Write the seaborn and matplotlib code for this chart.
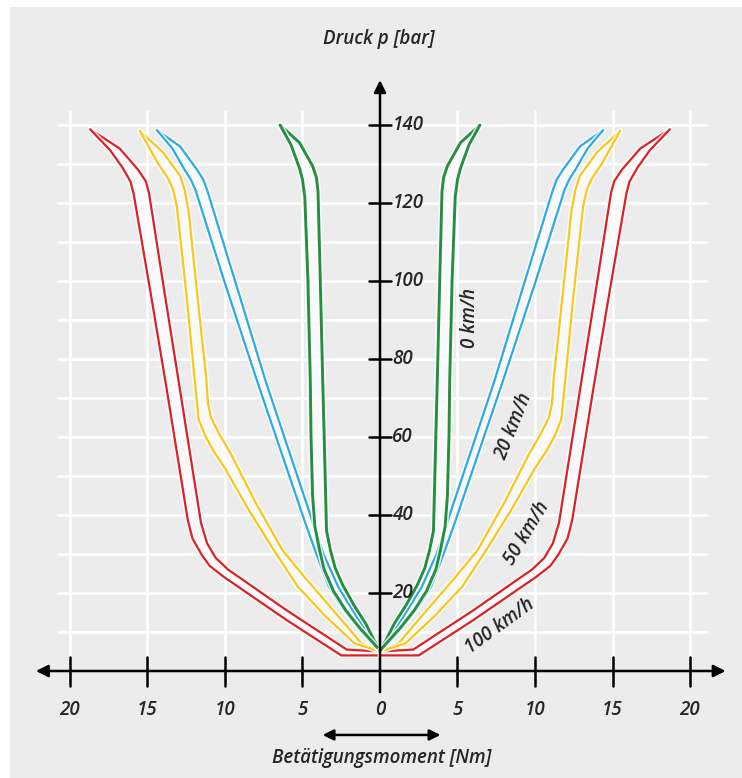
import numpy as np
import pandas as pd
import matplotlib
matplotlib.use("Agg")
import matplotlib.pyplot as plt
import matplotlib.patheffects as pe
from matplotlib.patches import Rectangle
import seaborn as sns

# ------------------------------------------------------------
# Daten (nur rechte Hälfte, die linke Seite ist gespiegelt)
# ------------------------------------------------------------
speeds = ["0 km/h", "20 km/h", "50 km/h", "100 km/h"]
colors = {"0 km/h": "#24903f", "20 km/h": "#2aabe4",
          "50 km/h": "#f8c71a", "100 km/h": "#dd2027"}

# 0 km/h
green_out_x = [0, 0.5, 1.3, 2.2, 3.0, 3.6, 3.9, 4.2, 4.35, 4.45, 4.5, 4.65, 4.85, 5.0, 5.2, 5.75, 6.45]
green_out_y = [5.2, 7.5, 11.0, 15.5, 20.5, 26.0, 31.0, 37.0, 45, 60, 75, 100, 121.5, 126, 129, 135, 140]
green_in_x = [0, 0.4, 0.9, 1.7, 2.4, 2.9, 3.2, 3.45, 3.6, 3.7, 3.85, 4.0, 4.1, 4.35, 5.2, 6.45]
green_in_y = [5.2, 8.0, 12.0, 17.0, 22.0, 26.5, 31.0, 36.0, 60, 75, 100, 123, 126.5, 129.5, 135.5, 140]

# 20 km/h
blue_out_x = [0, 0.65, 1.5, 2.5, 3.3, 4.15, 4.85, 7.95, 10.05, 11.9, 12.2, 12.6, 13.4, 14.4]
blue_out_y = [5.2, 7.5, 11.5, 16.5, 21.6, 30.5, 38.3, 74.6, 100, 123.3, 126.0, 128.5, 134.0, 138.7]
blue_in_x = [0, 0.5, 1.6, 2.7, 3.65, 4.35, 7.4, 9.35, 11.15, 11.4, 11.8, 12.9, 14.4]
blue_in_y = [5.2, 8.0, 14.5, 21.6, 30.0, 38.3, 74.6, 100, 123.3, 126.0, 128.5, 134.5, 138.7]

# 50 km/h
yellow_out_x = [0, 1.65, 3.5, 5.3, 6.85, 8.5, 10.0, 10.8, 11.3, 11.7, 11.95, 12.5, 13.1, 13.35, 13.7, 14.3, 15.5]
yellow_out_y = [5.0, 7.1, 14.0, 21.6, 31.0, 41.5, 52.0, 56.8, 60.5, 64.5, 74.6, 97, 119, 123.5, 126.5, 130.0, 138.5]
yellow_in_x = [0, 1.2, 3.0, 4.85, 6.3, 8.0, 9.6, 10.4, 10.9, 11.1, 11.2, 11.8, 12.35, 12.6, 12.9, 14.0, 15.5]
yellow_in_y = [5.0, 7.1, 15.5, 24.0, 31.0, 43.0, 55.5, 61.0, 65.0, 68.6, 74.6, 97, 118, 123.3, 127.0, 133.0, 138.5]

# 100 km/h
red_out_x = [0, 2.5, 6.0, 10.1, 11.0, 11.5, 12.1, 12.4, 13.75, 14.8, 15.9, 16.1, 16.6, 17.4, 18.7]
red_out_y = [4.0, 4.0, 13.0, 24.2, 27.0, 29.8, 34.0, 38.7, 72.0, 97, 122.5, 125.5, 129.0, 133.5, 138.9]
red_in_x = [0, 2.15, 6.0, 9.8, 10.6, 11.15, 11.55, 12.9, 13.9, 14.9, 15.1, 15.6, 16.8, 18.7]
red_in_y = [5.0, 5.5, 15.5, 26.0, 29.0, 32.7, 38.0, 72.0, 97, 122.5, 125.5, 128.5, 134.0, 138.9]

curves = {
    "0 km/h": (green_out_x, green_out_y, green_in_x, green_in_y),
    "20 km/h": (blue_out_x, blue_out_y, blue_in_x, blue_in_y),
    "50 km/h": (yellow_out_x, yellow_out_y, yellow_in_x, yellow_in_y),
    "100 km/h": (red_out_x, red_out_y, red_in_x, red_in_y),
}

x_ticks = [-20, -15, -10, -5, 0, 5, 10, 15, 20]
x_ticklabels = ["20", "15", "10", "5", "0", "5", "10", "15", "20"]
y_ticks = [20, 40, 60, 80, 100, 120, 140]

# Beschriftung der Kurven: (x, y, Drehung)
label_pos = {"0 km/h": (5.8, 90.5, 90), "20 km/h": (8.65, 62.8, 68),
             "50 km/h": (9.5, 35.4, 59), "100 km/h": (7.75, 11.5, 36)}

# ------------------------------------------------------------
# Grafik
# ------------------------------------------------------------
sns.set_style("white")
plt.rcParams["font.family"] = ["Open Sans", "DejaVu Sans"]
plt.rcParams["font.style"] = "italic"
plt.rcParams["font.weight"] = "semibold"

W, H = 742, 778
X0, Y0 = 380, 671      # Ursprung in Pixeln
SX, SY = 15.5, 3.9     # Pixel pro Nm / pro bar
FS = 13.5

fig = plt.figure(figsize=(W / 100, H / 100), dpi=100)
fig.patch.set_facecolor("white")
fig.add_artist(Rectangle((10 / W, 0), (W - 10) / W, (H - 7) / H,
                         transform=fig.transFigure, facecolor="#ececec",
                         edgecolor="none", zorder=0))

ax = fig.add_axes([0, 0, 1, 1])
ax.set_xlim(-X0 / SX, (W - X0) / SX)
ax.set_ylim((Y0 - H) / SY, Y0 / SY)
ax.axis("off")
ax.patch.set_alpha(0)

# Gitter
for xv in [-20, -15, -10, -5, 5, 10, 15, 20]:
    ax.plot([xv, xv], [0, 143.6], color="white", lw=1.8, zorder=1)
for yv in range(10, 150, 10):
    ax.plot([-20.8, 21.1], [yv, yv], color="white", lw=1.8, zorder=1)

# Kurven
for sp in speeds[::-1]:
    ox, oy, ix, iy = curves[sp]
    c = colors[sp]
    lw = 2.1 if sp == "0 km/h" else 1.6
    rows = []
    for sign, side in [(1, "r"), (-1, "l")]:
        for nm, xs, ys in [("out", ox, oy), ("in", ix, iy)]:
            for xv, yv in zip(xs, ys):
                rows.append({"x": sign * xv, "y": yv, "curve": side + nm})
        ax.fill(np.r_[sign * np.array(ox), sign * np.array(ix)[::-1]],
                np.r_[oy, iy[::-1]], color="white", alpha=0.7, lw=0, zorder=2)
    df = pd.DataFrame(rows)
    sns.lineplot(data=df, x="x", y="y", units="curve", estimator=None,
                 sort=False, color=c, lw=lw, ax=ax, legend=False, zorder=3,
                 path_effects=[pe.Stroke(linewidth=lw + 2.2, foreground="white", alpha=0.8),
                               pe.Normal()])
ax.set_xlabel("")
ax.set_ylabel("")

# Achsen mit Pfeilen
ax.annotate("", xy=(22.3, 0), xytext=(-22.2, 0),
            arrowprops=dict(arrowstyle="<|-|>", color="black", lw=1.8,
                            mutation_scale=18, shrinkA=0, shrinkB=0), zorder=5)
ax.annotate("", xy=(0, 151.5), xytext=(0, -5.4),
            arrowprops=dict(arrowstyle="-|>", color="black", lw=1.8,
                            mutation_scale=18, shrinkA=0, shrinkB=0), zorder=5)

for xv in x_ticks:
    if xv != 0:
        ax.plot([xv, xv], [-3.9, 3.7], color="black", lw=1.8, zorder=5)
for xv, lab in zip(x_ticks, x_ticklabels):
    ax.text(xv, -10.0, lab, ha="center", va="center", fontsize=FS)

for yv in y_ticks:
    ax.plot([-0.7, 0.7], [yv, yv], color="black", lw=1.8, zorder=5)
    ax.text(0.8, yv, str(yv), ha="left", va="center", fontsize=FS)

# Doppelpfeil unter der x-Achse
ax.annotate("", xy=(3.9, -16.4), xytext=(-3.7, -16.4),
            arrowprops=dict(arrowstyle="<|-|>", color="black", lw=1.8,
                            mutation_scale=16, shrinkA=0, shrinkB=0))

ax.text(0.1, -22.3, "Betätigungsmoment [Nm]", ha="center", va="center", fontsize=FS)
ax.text(-0.1, 162.0, "Druck p [bar]", ha="center", va="center", fontsize=FS)

for sp in speeds:
    lx, ly, rot = label_pos[sp]
    ax.text(lx, ly, sp, ha="center", va="center", rotation=rot,
            rotation_mode="anchor", fontsize=FS, zorder=6)

fig.savefig("out.png", dpi=100)
